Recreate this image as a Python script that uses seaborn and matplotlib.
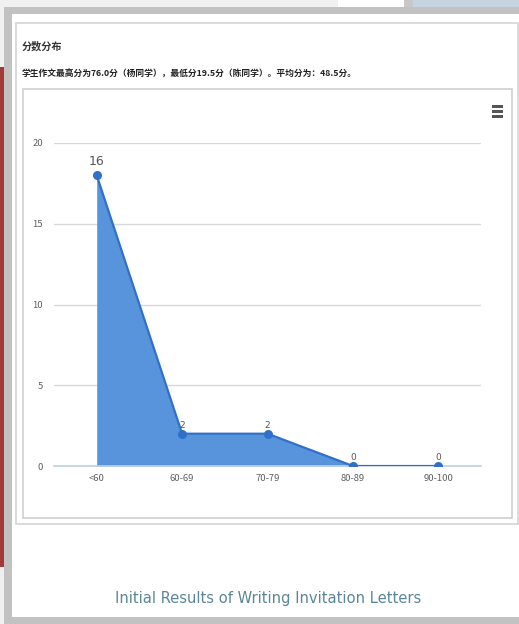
import numpy as np
import pandas as pd
import seaborn as sns
import matplotlib.pyplot as plt
from matplotlib.patches import Rectangle

# data
categories = ["<60", "60-69", "70-79", "80-89", "90-100"]
counts = [18, 2, 2, 0, 0]
point_labels = ["16", "2", "2", "0", "0"]
y_ticks = [0, 5, 10, 15, 20]

title = "分数分布"
subtitle = "学生作文最高分为76.0分（杨同学），最低分19.5分（陈同学）。平均分为：48.5分。"
caption = "Initial Results of Writing Invitation Letters"

sns.set_style("white")
plt.rcParams["font.family"] = ["Noto Sans CJK SC", "DejaVu Sans"]

W, H = 519, 624
fig = plt.figure(figsize=(W / 100, H / 100), dpi=100)

# background page, drawn in pixel coords
bg = fig.add_axes([0, 0, 1, 1])
bg.set_xlim(0, W)
bg.set_ylim(H, 0)
bg.axis("off")

def box(x, y, w, h, fc, ec="none", lw=0):
    bg.add_patch(Rectangle((x, y), w, h, facecolor=fc, edgecolor=ec, linewidth=lw))

box(0, 0, W, H, "#f0f0f0")
box(338, 0, 66, 8, "#ffffff")
box(404, 0, 9, 8, "#c8c8c8")
box(413, 0, 106, 8, "#c6d4e2")
box(4, 7, W - 4, H - 7, "#c2c2c2")
box(12, 14, W - 12, 603, "#ffffff")
box(0, 67, 4, 500, "#a33a3a")
box(15.5, 22.5, 502, 501, "none", "#d4d4d4", 1.2)
box(22.5, 88.5, 489, 429, "none", "#cfcfcf", 1.2)

bg.text(22, 46, title, fontsize=7.3, color="#333333", va="center", fontweight="bold")
bg.text(22, 74, subtitle, fontsize=6.3, color="#222222", va="center", fontweight="bold")
bg.text(268, 598, caption, fontsize=11.8, color="#5b8797", ha="center", va="center",
        family="DejaVu Sans", fontstretch="condensed")

# menu icon
for yy in [106, 111, 116]:
    box(492, yy - 1.5, 11, 3, "#555555")

# chart axes
left, right, top, bottom = 54, 481, 143, 466
ax = fig.add_axes([left / W, 1 - bottom / H, (right - left) / W, (bottom - top) / H])
ax.set_facecolor("none")

df = pd.DataFrame({"pos": np.arange(len(categories)), "count": counts})
ax.fill_between(df["pos"], df["count"], color="#5894dc", linewidth=0, zorder=2)
sns.lineplot(data=df, x="pos", y="count", ax=ax, color="#2f70c8", linewidth=1.6,
             marker="o", markersize=6.5, markeredgewidth=0, zorder=3)

for i, (v, lab) in enumerate(zip(counts, point_labels)):
    fs = 9 if i == 0 else 6.5
    off = 5 if i == 0 else 3
    ax.annotate(lab, (i, v), xytext=(0, off), textcoords="offset points",
                ha="center", va="bottom", fontsize=fs, color="#555555",
                family=["DejaVu Sans"])

ax.set_xlim(-0.5, len(categories) - 0.5)
ax.set_ylim(0, 20)
ax.set_yticks(y_ticks)
ax.set_yticklabels([str(t) for t in y_ticks], fontsize=6.8, color="#606060")
ax.set_xticks(df["pos"])
ax.set_xticklabels(categories, fontsize=6.8, color="#606060")
ax.set_xticks(np.arange(len(categories) + 1) - 0.5, minor=True)
ax.tick_params(axis="x", which="major", length=0, pad=6)
ax.tick_params(axis="x", which="minor", length=5, color="#c0d0e0", direction="out")
ax.tick_params(axis="y", length=0, pad=8)
ax.grid(axis="y", color="#d8d8d8", linewidth=1)
ax.set_axisbelow(True)
for s in ["top", "right", "left"]:
    ax.spines[s].set_visible(False)
ax.spines["bottom"].set_color("#c0d0e0")
ax.spines["bottom"].set_linewidth(1.2)
ax.set_xlabel("")
ax.set_ylabel("")

fig.savefig("out.png", dpi=100)
